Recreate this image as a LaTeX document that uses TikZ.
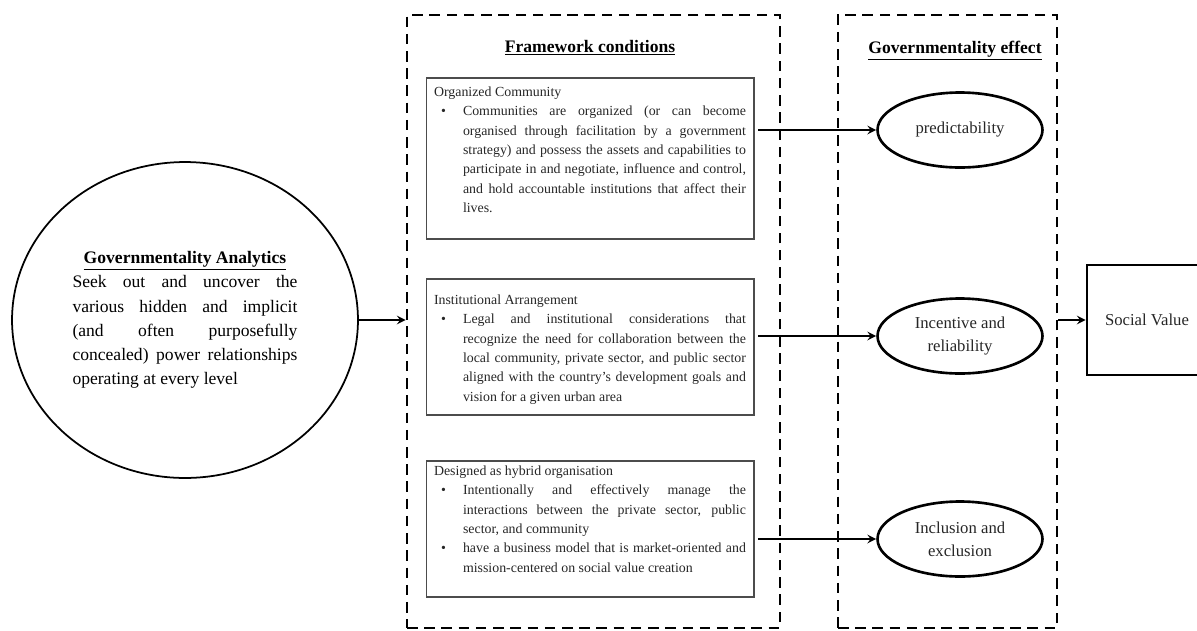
\documentclass[tikz,border=0pt]{standalone}
\usepackage{fontspec}
\setmainfont{Liberation Serif}
\usepackage{enumitem}
\setlist[itemize]{leftmargin=0.58cm,labelwidth=0.44cm,labelsep=0pt,align=left,nosep}
\usetikzlibrary{shapes.geometric}

\begin{document}
\begin{tikzpicture}[-,>=stealth,x=0.02cm,y=-0.02cm,line width=1.2pt,
    frame node/.style={draw,dash pattern=on 6pt off 3.8pt,line width=1.5pt,inner sep=0pt,minimum height=12.26cm},
    cond node/.style={draw=black!70,line width=0.6pt,text=black!85,inner xsep=0.16cm,inner ysep=0pt,font=\fontsize{7.9}{11}\selectfont},
    effect node/.style={ellipse,draw,line width=1.5pt,minimum width=3.3cm,minimum height=1.5cm,inner sep=0pt,align=center,text=black!85,font=\fontsize{9.5}{13}\selectfont},
    title node/.style={anchor=base,font=\fontsize{10}{12}\selectfont\bfseries}]

            \useasboundingbox (0,0) rectangle (1197,630);

            \node[ellipse, draw, line width=1pt, minimum width=6.92cm, minimum height=6.32cm, inner sep=0pt, text width=4.5cm, align=justify, font=\fontsize{10}{13.8}\selectfont] (ga) at (185,320) {{\centering\bfseries\underline{Governmentality Analytics}\par}Seek out and uncover the\linebreak various hidden and implicit\linebreak (and often purposefully\linebreak concealed) power relationships\linebreak operating at every level};

            \node[frame node, minimum width=7.46cm] (fw) at (593.5,321.5) {};
            \node[frame node, minimum width=4.38cm] (eff) at (947.5,321.5) {};
            \node[title node] (fwt) at (590,52) {\underline{Framework conditions}};
            \node[title node] (efft) at (955,53) {\underline{Governmentality effect}};

            \node[cond node] (c1) at (590,158.5) {\parbox[c][3.22cm][t]{6.24cm}{\vspace*{0.18cm}Organized Community
                \begin{itemize}
                \item Communities are organized (or can become\linebreak organised through facilitation by a government\linebreak strategy) and possess the assets and capabilities to\linebreak participate in and negotiate, influence and control,\linebreak and hold accountable institutions that affect their\linebreak lives.
                \end{itemize}}};
            \node[cond node] (c2) at (590,347) {\parbox[c][2.72cm][t]{6.24cm}{\vspace*{0.32cm}Institutional Arrangement
                \begin{itemize}
                \item Legal and institutional considerations that\linebreak recognize the need for collaboration between the\linebreak local community, private sector, and public sector\linebreak aligned with the country's development goals and\linebreak vision for a given urban area
                \end{itemize}}};
            \node[cond node] (c3) at (590,529) {\parbox[c][2.72cm][t]{6.24cm}{\vspace*{0.1cm}Designed as hybrid organisation
                \begin{itemize}
                \item Intentionally and effectively manage the\linebreak interactions between the private sector, public\linebreak sector, and community
                \item have a business model that is market-oriented and\linebreak mission-centered on social value creation
                \end{itemize}}};

            \node[effect node] (e1) at (960,130) {predictability};
            \node[effect node] (e2) at (960,336) {Incentive and\\reliability};
            \node[effect node] (e3) at (960,539) {Inclusion and\\exclusion};

            \node[draw, line width=1.5pt, minimum width=2.4cm, minimum height=2.2cm, text=black!85, font=\fontsize{9.5}{12}\selectfont] (sv) at (1147,320) {Social Value};

            \draw[->] (ga) to (ga -| fw.west);
            \draw[->, shorten <=2pt] (e1 -| c1.east) to (e1);
            \draw[->, shorten <=2pt] (e2 -| c2.east) to (e2);
            \draw[->, shorten <=2pt] (e3 -| c3.east) to (e3);
            \draw[->] (sv -| eff.east) to (sv);
        \end{tikzpicture}
\end{document}
